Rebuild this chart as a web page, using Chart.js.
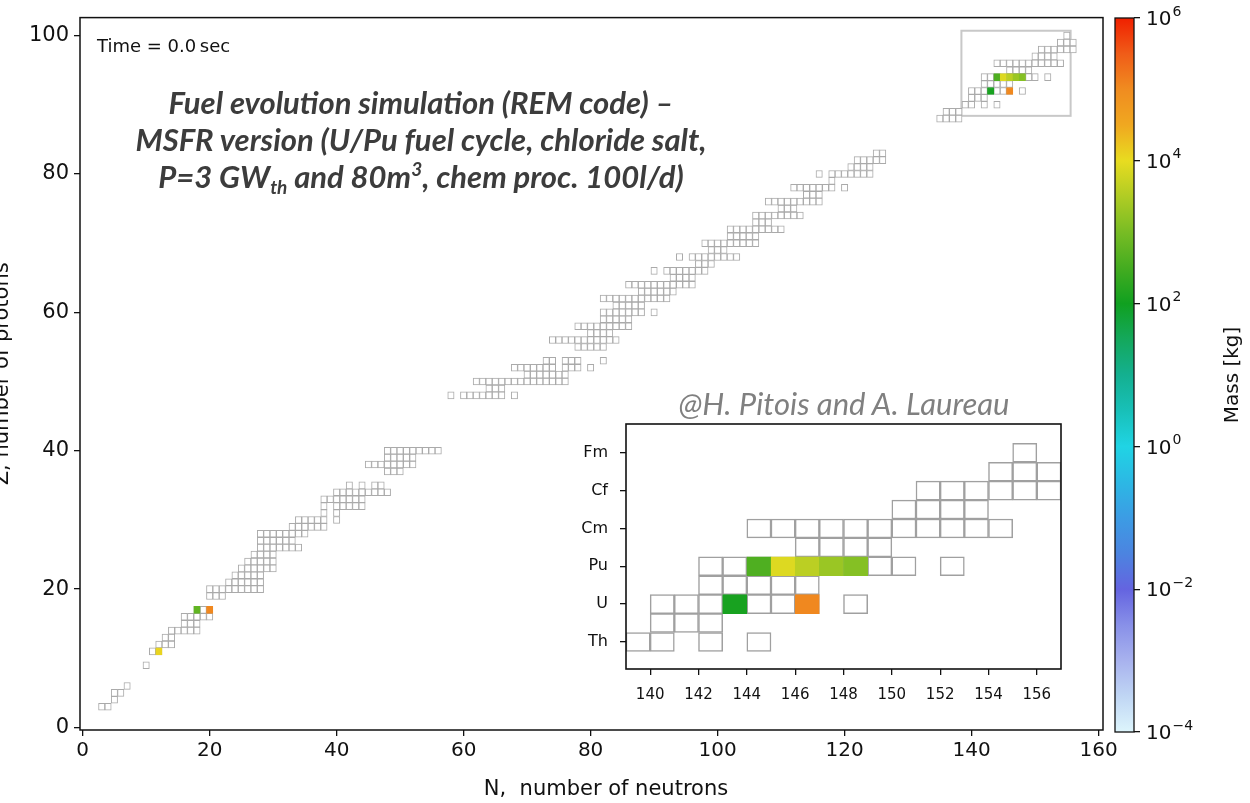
<!DOCTYPE html>
<html><head><meta charset="utf-8">
<script src="https://cdn.jsdelivr.net/npm/chart.js@4.4.1/dist/chart.umd.min.js"></script>
<style>
html,body{margin:0;padding:0;background:#fff;}
body{width:1250px;height:803px;position:relative;overflow:hidden;font-family:"DejaVu Sans",sans-serif;}
canvas{position:absolute;}
.note{position:absolute;white-space:nowrap;}
#time{left:97px;top:35px;font:18px "DejaVu Sans";color:#111;}
#title{left:421px;top:84px;transform:translateX(-50%);text-align:center;font:italic bold 31px Lato;color:#3c3c3c;line-height:37px;}
#title sub{font-size:19px;vertical-align:-6px;line-height:0;}
#title sup{font-size:19px;vertical-align:12px;line-height:0;}
#credit{left:844px;top:384px;transform:translateX(-50%);font:italic 31px Lato;color:#808080;}
</style></head><body>
<canvas id="main" width="1250" height="803" style="left:0;top:0;width:1250px;height:803px"></canvas>
<canvas id="cbar" width="150" height="803" style="left:1100px;top:0;width:150px;height:803px"></canvas>
<canvas id="inset" width="520" height="320" style="left:560px;top:400px;width:520px;height:320px"></canvas>
<div class="note" id="time">Time = 0.0&#8201;sec</div>
<div class="note" id="title">Fuel evolution simulation (REM code) –<br>MSFR version (U/Pu fuel cycle, chloride salt,<br>P=3 GW<sub>th</sub> and 80m<sup>3</sup>, chem proc. 100l/d)</div>
<div class="note" id="credit">@H. Pitois and A. Laureau</div>
<script>
// ---------- DATA ----------
const protonNumbers = [3,4,5,6,9,11,12,13,14,15,16,17,19,20,21,22,23,24,25,26,27,28,29,30,31,32,33,34,35,37,38,39,40,
  48,49,50,51,52,53,55,56,57,58,59,60,61,62,63,64,65,66,67,68,69,70,71,72,73,74,75,76,77,78,79,80,81,82,83,
  88,89,90,91,92,93,94,95,96,97,98,99,100];
const neutronLists = [
  [3,4],[5],[5,6],[7],[10],[11,12],[12,13,14],[13,14],[14,15,16,17,18],[16,17,18],[16,17,18,19,20],[18,19,20],
  [20,21,22],[20,21,22,23,24,25,26,27,28],[23,24,25,26,27,28],[24,25,26,27,28],[25,26,27,28,29,30],[26,27,28,29,30],
  [27,28,29,30],[28,29,30,31,32,33,34],[28,29,30,31,32,33],[28,29,30,31,32,33,34,35],[33,34,35,36,37,38],
  [34,35,36,37,38,40],[38,40],[38,40,41,42,43,44],[38,39,40,41,42,43,44],[40,41,42,43,44,45,46,47,48],[42,44,46,47],
  [48,49,50],[45,46,47,48,49,50,51,52],[48,49,50,51,52],[48,49,50,51,52,53,54,55,56],
  [58,60,61,62,63,64,65,66,68],[64,65,66],[62,63,64,65,66,67,68,69,70,71,72,73,74,75,76],[70,71,72,73,74,75,76],
  [68,69,70,71,72,73,74,76,77,78,80],[73,74,76,77,78,82],[78,79,80,81,82],[74,75,76,77,78,79,80,81,82,83,84],
  [80,81,82,83],[78,79,80,81,82,83,84,85,86],[82,83,84,85,86],[82,83,84,85,86,87,88,90],[84,85,86,87,88],
  [82,83,84,85,86,87,88,89,90,91,92],[88,89,90,91,92,93],[86,87,88,89,90,91,92,93,94,95,96],[93,94,95,96],
  [90,92,93,94,95,96,97,98],[97,98,99],[94,96,97,98,99,100,101,102,103],[99,100,101],
  [98,99,100,101,102,103,104,105,106],[102,103,104,105,106],[102,103,104,105,106,107,108,109,110],[106,107,108],
  [106,107,108,109,110,111,112,113],[110,111,112],[108,109,110,111,112,113,114,115,116],[114,115,116],
  [112,113,114,115,116,117,118,120],[118],[116,118,119,120,121,122,123,124],[121,122,123,124],[122,123,124,125,126],[125,126],
  [135,136,137,138],[136,137,138],[139,140,142,144],[140,141,142],[140,141,142,143,144,145,146,148],[142,143,144,145,146],
  [142,143,144,145,146,147,148,149,150,152],[146,147,148,149],[144,145,146,147,148,149,150,151,152,153,154],
  [150,151,152,153],[151,152,153,154,155,156],[154,155,156],[155]
];
// nuclides with a non-zero mass at t = 0
const massZ  = [11, 17, 17, 92, 92, 94, 94, 94, 94, 94];
const massN  = [12, 18, 20, 143, 146, 144, 145, 146, 147, 148];
const massKg = [1.2e4, 6e2, 1.1e5, 1.2e2, 1.1e5, 4e2, 8e3, 4e3, 2e3, 1.3e3];
// axes
const nTicks = [0,20,40,60,80,100,120,140,160];
const zTicks = [0,20,40,60,80,100];
const insetZ = [90,92,94,96,98,100];
const insetLabels = ['Th','U','Pu','Cm','Cf','Fm'];
const insetNTicks = [140,142,144,146,148,150,152,154,156];
const zoomBox = [138.4, 155.6, 88.4, 100.7];   // Nmin, Nmax, Zmin, Zmax
// colour bar
const cbarTicks = [1e-4,1e-2,1e0,1e2,1e4,1e6];
const cbarExponents = ['\u22124','\u22122','0','2','4','6'];
const cmapLog = [-4,-3.5,-3,-2.5,-2,-1.5,-1,-0.5,0,0.5,1,1.5,2,2.5,3,3.5,4,4.5,5,5.5,6];
const cmapColors = ['#ddf5fc','#c0d6f4','#a8b2ee','#8890e8','#6464e0','#4c84e0','#3c9ce4','#2cb8e4','#20d4e4','#18c0b8',
  '#14b090','#14a85c','#10a020','#44ac20','#78bc24','#b0cc24','#e8dc20','#f0a820','#f08c20','#f05c18','#f02000'];

// ---------- helpers ----------
function hex2rgb(h){return [parseInt(h.slice(1,3),16),parseInt(h.slice(3,5),16),parseInt(h.slice(5,7),16)];}
function cmap(m){
  const l = Math.log10(m);
  for(let i=0;i<cmapLog.length-1;i++){
    if(l<=cmapLog[i+1]){
      const t=(l-cmapLog[i])/(cmapLog[i+1]-cmapLog[i]);
      const a=hex2rgb(cmapColors[i]), b=hex2rgb(cmapColors[i+1]);
      return 'rgb('+a.map((v,k)=>Math.round(v+(b[k]-v)*t)).join(',')+')';
    }
  }
  return cmapColors[cmapColors.length-1];
}
const FONT='DejaVu Sans';
const mainCells=[], insetCells=[];
protonNumbers.forEach((z,i)=>neutronLists[i].forEach(n=>{
  mainCells.push({x:[n-0.5,n+0.5],y:z});
  if(z>=90) insetCells.push({x:[n,n+1],y:z});
}));
const fuelMain=[], fuelInset=[], fuelColMain=[], fuelColInset=[];
massZ.forEach((z,i)=>{
  const c=cmap(massKg[i]);
  fuelMain.push({x:[massN[i]-0.5,massN[i]+0.5],y:z}); fuelColMain.push(c);
  if(z>=90){fuelInset.push({x:[massN[i],massN[i]+1],y:z}); fuelColInset.push(c);}
});
const cellOpts={borderSkipped:false,grouped:false,categoryPercentage:1,barPercentage:1};

// ---------- main chart ----------
const mainFrame={id:'mainFrame',
  beforeDatasetsDraw(ch){
    const {ctx,scales:{x,y}}=ch; ctx.save();
    ctx.strokeStyle='#c8c8c8'; ctx.lineWidth=2;
    const x0=x.getPixelForValue(zoomBox[0]), x1=x.getPixelForValue(zoomBox[1]);
    const y0=y.getPixelForValue(zoomBox[3]), y1=y.getPixelForValue(zoomBox[2]);
    ctx.strokeRect(x0,y0,x1-x0,y1-y0); ctx.restore();
  },
  afterDraw(ch){
    const {ctx,chartArea:a}=ch; ctx.save();
    ctx.strokeStyle='#111'; ctx.lineWidth=1.5;
    ctx.strokeRect(a.left,a.top,a.right-a.left,a.bottom-a.top);
    ctx.font='21px "'+FONT+'"'; ctx.fillStyle='#111'; ctx.textAlign='center'; ctx.textBaseline='middle';
    ctx.fillText('N,  number of neutrons',606,790);
    ctx.translate(8,(a.top+a.bottom)/2); ctx.rotate(-Math.PI/2);
    ctx.textBaseline='alphabetic';
    ctx.fillText('Z, number of protons',0,0);
    ctx.restore();
  }};
new Chart(document.getElementById('main'),{
  type:'bar',
  data:{datasets:[
    Object.assign({data:fuelMain,backgroundColor:fuelColMain,borderColor:fuelColMain,borderWidth:1},cellOpts),
    Object.assign({data:mainCells,backgroundColor:'#ffffff',borderColor:'#aaaaaa',borderWidth:1},cellOpts)
  ]},
  options:{
    indexAxis:'y',responsive:false,animation:false,devicePixelRatio:1,
    layout:{padding:{left:0,top:15,right:147,bottom:0}},
    plugins:{legend:{display:false},tooltip:{enabled:false}},
    scales:{
      x:{type:'linear',min:-0.42,max:160.7,offset:false,
        afterFit:s=>{s.height=73;},
        afterBuildTicks:s=>{s.ticks=nTicks.map(v=>({value:v}));},
        grid:{drawOnChartArea:false,drawTicks:true,tickLength:6,color:'#111',lineWidth:1.3,offset:false},
        border:{display:false},
        ticks:{font:{family:FONT,size:20},color:'#111',padding:3,maxRotation:0,autoSkip:false}},
      y:{type:'linear',min:-0.36,max:102.6,offset:false,
        afterFit:s=>{s.width=80;},
        afterBuildTicks:s=>{s.ticks=zTicks.map(v=>({value:v}));},
        grid:{drawOnChartArea:false,drawTicks:true,tickLength:6,color:'#111',lineWidth:1.3,offset:false},
        border:{display:false},
        ticks:{font:{family:FONT,size:21},color:'#111',padding:5,autoSkip:false}}
    }
  },
  plugins:[mainFrame]
});

// ---------- colour bar ----------
const cbarPlugin={id:'cbar',
  beforeDatasetsDraw(ch){
    const {ctx,chartArea:a,scales:{y}}=ch; ctx.save();
    const pb=y.getPixelForValue(cbarTicks[0]), pt=y.getPixelForValue(cbarTicks[cbarTicks.length-1]);
    const g=ctx.createLinearGradient(0,pb,0,pt);
    cmapLog.forEach((l,i)=>{g.addColorStop((y.getPixelForValue(Math.pow(10,l))-pb)/(pt-pb),cmapColors[i]);});
    ctx.fillStyle=g; ctx.fillRect(a.left,a.top,a.right-a.left,a.bottom-a.top);
    ctx.strokeStyle='#111'; ctx.lineWidth=1.3; ctx.strokeRect(a.left,a.top,a.right-a.left,a.bottom-a.top);
    ctx.fillStyle='#111'; ctx.textAlign='left';
    cbarTicks.forEach((v,i)=>{
      const py=y.getPixelForValue(v), px=a.right+12;
      ctx.font='20px "'+FONT+'"'; ctx.textBaseline='middle';
      ctx.fillText('10',px,py+2);
      const w=ctx.measureText('10').width;
      ctx.font='14px "'+FONT+'"';
      ctx.fillText(cbarExponents[i],px+w+1,py-6);
    });
    ctx.translate(138,(a.top+a.bottom)/2); ctx.rotate(-Math.PI/2);
    ctx.font='20px "'+FONT+'"'; ctx.textAlign='center'; ctx.textBaseline='alphabetic';
    ctx.fillText('Mass [kg]',0,0);
    ctx.restore();
  }};
new Chart(document.getElementById('cbar'),{
  type:'scatter',
  data:{datasets:[{data:[]}]},
  options:{responsive:false,animation:false,devicePixelRatio:1,
    layout:{padding:{left:15,top:15,right:0,bottom:71}},
    plugins:{legend:{display:false},tooltip:{enabled:false}},
    scales:{
      x:{display:false,min:0,max:1},
      y:{type:'logarithmic',position:'right',min:1e-4,max:1e6,
        afterFit:s=>{s.width=116;},
        afterBuildTicks:s=>{s.ticks=cbarTicks.map(v=>({value:v}));},
        grid:{drawOnChartArea:false,drawTicks:true,tickLength:6,color:'#111',lineWidth:1.3},
        border:{display:false},
        ticks:{font:{family:FONT,size:20},color:'rgba(0,0,0,0)',padding:6,autoSkip:false,callback:()=>''}}
    }},
  plugins:[cbarPlugin]
});

// ---------- inset ----------
const insetFrame={id:'insetFrame',
  beforeDraw(ch){const {ctx,chartArea:a}=ch; ctx.save(); ctx.fillStyle='#fff'; ctx.fillRect(a.left,a.top,a.right-a.left,a.bottom-a.top); ctx.restore();},
  afterDraw(ch){const {ctx,chartArea:a}=ch; ctx.save(); ctx.strokeStyle='#111'; ctx.lineWidth=1.6; ctx.strokeRect(a.left,a.top,a.right-a.left,a.bottom-a.top); ctx.restore();}
};
new Chart(document.getElementById('inset'),{
  type:'bar',
  data:{datasets:[
    Object.assign({data:fuelInset,backgroundColor:fuelColInset,borderColor:fuelColInset,borderWidth:1},cellOpts),
    Object.assign({data:insetCells,backgroundColor:'#ffffff',borderColor:'#a0a0a0',borderWidth:1.5},cellOpts)
  ]},
  options:{
    indexAxis:'y',responsive:false,animation:false,devicePixelRatio:1,
    layout:{padding:{left:0,top:24,right:19,bottom:0}},
    plugins:{legend:{display:false},tooltip:{enabled:false}},
    scales:{
      x:{type:'linear',min:139,max:157,offset:false,
        afterFit:s=>{s.height=51;},
        afterBuildTicks:s=>{s.ticks=insetNTicks.map(v=>({value:v}));},
        grid:{drawOnChartArea:false,drawTicks:true,tickLength:6,color:'#111',lineWidth:1.3,offset:false},
        border:{display:false},
        ticks:{font:{family:FONT,size:15},color:'#111',padding:11,maxRotation:0,autoSkip:false}},
      y:{type:'linear',min:88.57,max:101.52,offset:false,
        afterFit:s=>{s.width=66;},
        afterBuildTicks:s=>{s.ticks=insetZ.map(v=>({value:v}));},
        grid:{drawOnChartArea:false,drawTicks:true,tickLength:6,color:'#111',lineWidth:1.3,offset:false},
        border:{display:false},
        ticks:{font:{family:FONT,size:16},color:'#111',padding:12,autoSkip:false,
          callback:(v)=>{const i=insetZ.indexOf(v);return i>=0?insetLabels[i]:'';}}}
    }
  },
  plugins:[insetFrame]
});
</script>
</body></html>
